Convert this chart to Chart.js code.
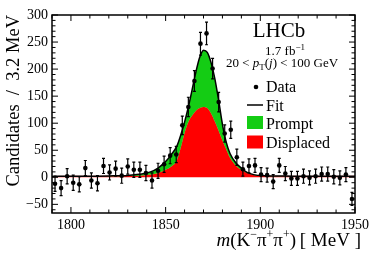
<!DOCTYPE html>
<html>
<head>
<meta charset="utf-8">
<script src="https://cdn.jsdelivr.net/npm/chart.js@4.4.1/dist/chart.umd.min.js"></script>
<style>
  html, body { margin: 0; padding: 0; background: #fff; }
  #contenedor { width: 374px; height: 254px; }
</style>
</head>
<body>
<div id="contenedor"><canvas id="grafico" width="374" height="254"></canvas></div>
<script>
// Centros de bin (3.2 MeV) y cuentas
const binCenters = [1791.6, 1794.8, 1798.0, 1801.2, 1804.4, 1807.6, 1810.8, 1814.0, 1817.2, 1820.4,
  1823.6, 1826.8, 1830.0, 1833.2, 1836.4, 1839.6, 1842.8, 1846.0, 1849.2, 1852.4,
  1855.6, 1858.8, 1862.0, 1865.2, 1868.4, 1871.6, 1874.8, 1878.0, 1881.2, 1884.4,
  1887.6, 1890.8, 1894.0, 1897.2, 1900.4, 1903.6, 1906.8, 1910.0, 1913.2, 1916.4,
  1919.6, 1922.8, 1926.0, 1929.2, 1932.4, 1935.6, 1938.8, 1942.0, 1945.2, 1948.4];
const dataValues = [-12, -20, 2, -10, -13, 17, -6, -11, 21, 9,
  16, 3, 20, 14, 14, 8, -6, 12, 24, 40,
  42, 96, 130, 178, 247, 266, 201, 139, 81, 88,
  37, 15, 21, 22, 5, 4, -8, 22, 7, -2,
  -2, 2, -1, 2, 6, 6, 1, -1, 5, -40];
const dataErrors = [14, 14, 14, 14, 14, 14, 14, 14, 14, 14,
  14, 14, 14, 14, 14, 14, 14, 14, 15, 15,
  15, 17, 18, 19, 21, 21, 19, 18, 16, 16,
  15, 13, 13, 13, 13, 13, 13, 13, 13, 13,
  13, 13, 13, 13, 13, 13, 13, 13, 13, 12];

// Curvas del ajuste (total y componente desplazada)
const curveMass = [1790, 1800, 1810, 1820, 1830, 1836, 1842, 1846, 1850, 1853,
  1856, 1858, 1860, 1862, 1864, 1866, 1868, 1870, 1872, 1874,
  1876, 1878, 1880, 1882, 1884, 1887, 1890, 1893, 1897, 1902,
  1910, 1920, 1930, 1940, 1950];
const fitTotal = [1.5, 2, 2, 2.5, 3.5, 5.5, 10, 17, 29, 42,
  58, 78, 102, 130, 162, 195, 222, 235, 231, 212,
  182, 142, 98, 65, 44, 27, 17, 9, 4.5, 3,
  2.5, 2, 2, 2, 2];
const displacedCurve = [1.5, 2, 2, 2, 2.5, 3, 5, 8, 14, 20,
  32, 55, 82, 102, 114, 123, 128, 130, 128, 118,
  103, 86, 68, 52, 36, 22, 14, 8, 4, 2.5,
  2, 2, 2, 2, 2];

const xTickValues = [1800, 1850, 1900, 1950];
const yTickValues = [-50, 0, 50, 100, 150, 200, 250, 300];

const fuente = "'Liberation Serif', 'Times New Roman', serif";
const verde = '#14cc14';
const rojo = '#ff0000';

const f = (size, estilo) => (estilo ? estilo + ' ' : '') + size + 'px ' + fuente;

// escribe texto con partes de distinta fuente (sub/superindices)
function textoCompuesto(ctx, partes, x, y, align) {
  let ancho = 0;
  partes.forEach(p => { ctx.font = p[1]; ancho += ctx.measureText(p[0]).width; });
  let cx = align === 'right' ? x - ancho : align === 'center' ? x - ancho / 2 : x;
  partes.forEach(p => {
    ctx.font = p[1];
    ctx.fillText(p[0], cx, y + (p[2] || 0));
    cx += ctx.measureText(p[0]).width;
  });
}

// barras de error de los datos, usando las escalas del grafico
const barrasError = {
  id: 'barrasError',
  beforeDatasetDraw(chart, args) {
    if (args.index !== 0) return;
    const { ctx, scales: { x, y } } = chart;
    ctx.save();
    ctx.strokeStyle = '#000';
    ctx.lineWidth = 1.2;
    ctx.beginPath();
    binCenters.forEach((m, i) => {
      const px = x.getPixelForValue(m);
      const y1 = y.getPixelForValue(dataValues[i] - dataErrors[i]);
      const y2 = y.getPixelForValue(dataValues[i] + dataErrors[i]);
      ctx.moveTo(px, y1); ctx.lineTo(px, y2);
      ctx.moveTo(px - 1.5, y1); ctx.lineTo(px + 1.5, y1);
      ctx.moveTo(px - 1.5, y2); ctx.lineTo(px + 1.5, y2);
    });
    ctx.stroke();
    ctx.restore();
  }
};

// marco con marcas hacia adentro, leyenda y textos estilo LHCb
const marcoLHCb = {
  id: 'marcoLHCb',
  afterDraw(chart) {
    const { ctx, chartArea: a, scales: { x, y } } = chart;
    ctx.save();
    ctx.strokeStyle = '#000';
    ctx.lineWidth = 1;
    ctx.beginPath();
    for (let v = 1790; v <= 1950; v += 10) {
      const px = x.getPixelForValue(v);
      const len = v % 50 === 0 ? 6 : 3.5;
      ctx.moveTo(px, a.bottom); ctx.lineTo(px, a.bottom - len);
      ctx.moveTo(px, a.top); ctx.lineTo(px, a.top + len);
    }
    for (let v = -60; v <= 300; v += 10) {
      const py = y.getPixelForValue(v);
      const len = v % 50 === 0 ? 6 : 3.5;
      ctx.moveTo(a.left, py); ctx.lineTo(a.left + len, py);
      ctx.moveTo(a.right, py); ctx.lineTo(a.right - len, py);
    }
    ctx.stroke();
    ctx.lineWidth = 1.5;
    ctx.strokeRect(a.left, a.top, a.right - a.left, a.bottom - a.top);

    ctx.fillStyle = '#000';
    ctx.textBaseline = 'alphabetic';
    textoCompuesto(ctx, [['LHCb', f(21)]], 279, 37, 'center');
    textoCompuesto(ctx, [['1.7 fb', f(13)], ['\u22121', f(9), -5]], 285, 55, 'center');
    textoCompuesto(ctx, [['20 < ', f(13)], ['p', f(13, 'italic')], ['T', f(9), 3],
      ['(', f(13)], ['j', f(13, 'italic')], [') < 100 GeV', f(13)]], 282, 67, 'center');

    // leyenda
    ctx.beginPath();
    ctx.arc(256, 87, 2.3, 0, Math.PI * 2);
    ctx.fill();
    ctx.lineWidth = 1.5;
    ctx.beginPath();
    ctx.moveTo(247, 105); ctx.lineTo(263, 105);
    ctx.stroke();
    ctx.fillStyle = verde;
    ctx.fillRect(247, 116, 16, 13);
    ctx.fillStyle = rojo;
    ctx.fillRect(247, 135.5, 16, 13);
    ctx.fillStyle = '#000';
    textoCompuesto(ctx, [['Data', f(16)]], 266, 92, 'left');
    textoCompuesto(ctx, [['Fit', f(16)]], 266, 110.5, 'left');
    textoCompuesto(ctx, [['Prompt', f(16)]], 266, 129, 'left');
    textoCompuesto(ctx, [['Displaced', f(16)]], 266, 147.5, 'left');

    // titulo del eje x
    textoCompuesto(ctx, [['m', f(19, 'italic')], ['(K', f(19)], ['\u2212', f(12), -8],
      ['\u03c0', f(19)], ['+', f(12), -8], ['\u03c0', f(19)], ['+', f(12), -8],
      [')\u2009[ MeV ]', f(19)]], 361, 246, 'right');
    ctx.restore();
  }
};

const config = {
  type: 'scatter',
  data: {
    datasets: [
      {
        label: 'Data',
        data: binCenters.map((m, i) => ({ x: m, y: dataValues[i] })),
        pointRadius: 2.3,
        pointBackgroundColor: '#000',
        pointBorderWidth: 0,
        order: 0
      },
      {
        label: 'Fit',
        type: 'line',
        data: curveMass.map((m, i) => ({ x: m, y: fitTotal[i] })),
        borderColor: '#000',
        borderWidth: 1.5,
        pointRadius: 0,
        cubicInterpolationMode: 'monotone',
        fill: 2,
        backgroundColor: verde,
        order: 1
      },
      {
        label: 'Displaced',
        type: 'line',
        data: curveMass.map((m, i) => ({ x: m, y: displacedCurve[i] })),
        borderColor: rojo,
        borderWidth: 0.5,
        pointRadius: 0,
        cubicInterpolationMode: 'monotone',
        fill: 'origin',
        backgroundColor: rojo,
        order: 2
      }
    ]
  },
  options: {
    responsive: false,
    animation: false,
    devicePixelRatio: 1,
    layout: { padding: { top: 15, right: 19, left: 0, bottom: 0 } },
    plugins: {
      legend: { display: false },
      tooltip: { enabled: false }
    },
    scales: {
      x: {
        type: 'linear',
        min: 1790,
        max: 1950,
        grid: { display: false, drawTicks: false },
        border: { display: false },
        afterBuildTicks: s => { s.ticks = xTickValues.map(v => ({ value: v })); },
        afterFit: s => { s.height = 41; },
        ticks: {
          padding: 4, color: '#000', font: { family: fuente, size: 14 }, maxRotation: 0, autoSkip: false,
          callback: v => String(v)
        }
      },
      y: {
        min: -66,
        max: 300,
        grid: { display: false, drawTicks: false },
        border: { display: false },
        afterBuildTicks: s => { s.ticks = yTickValues.map(v => ({ value: v })); },
        afterFit: s => { s.width = 52; },
        ticks: {
          padding: 4, color: '#000', font: { family: fuente, size: 14 }, autoSkip: false,
          callback: v => String(v).replace('-', '\u2212')
        },
        title: {
          display: true,
          text: 'Candidates  /  3.2 MeV',
          align: 'end',
          color: '#000',
          font: { family: fuente, size: 18.5 },
          padding: { top: 3, bottom: 0 }
        }
      }
    }
  },
  plugins: [barrasError, marcoLHCb]
};

const grafico = new Chart(document.getElementById('grafico'), config);
</script>
</body>
</html>
